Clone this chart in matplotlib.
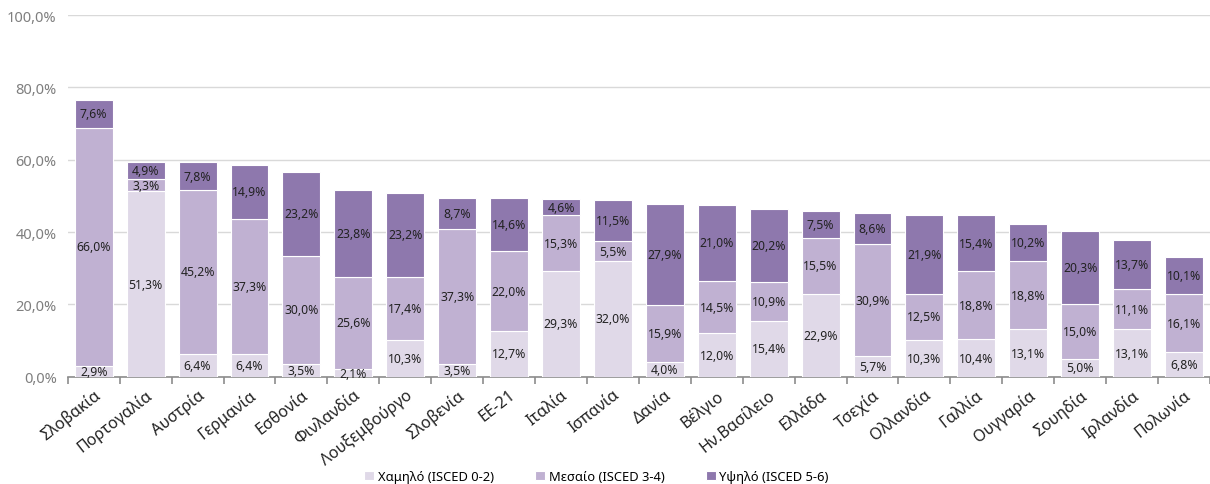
import numpy as np
import matplotlib.pyplot as plt
from matplotlib.ticker import FuncFormatter

plt.rcParams['font.family'] = ['Noto Sans', 'DejaVu Sans']

countries = ['Σλοβακία', 'Πορτογαλία', 'Αυστρία', 'Γερμανία', 'Εσθονία', 'Φινλανδία',
             'Λουξεμβούργο', 'Σλοβενία', 'ΕΕ-21', 'Ιταλία', 'Ισπανία', 'Δανία',
             'Βέλγιο', 'Ην.Βασίλειο', 'Ελλάδα', 'Τσεχία', 'Ολλανδία', 'Γαλλία',
             'Ουγγαρία', 'Σουηδία', 'Ιρλανδία', 'Πολωνία']
low = [2.9, 51.3, 6.4, 6.4, 3.5, 2.1, 10.3, 3.5, 12.7, 29.3, 32.0, 4.0,
       12.0, 15.4, 22.9, 5.7, 10.3, 10.4, 13.1, 5.0, 13.1, 6.8]
mid = [66.0, 3.3, 45.2, 37.3, 30.0, 25.6, 17.4, 37.3, 22.0, 15.3, 5.5, 15.9,
       14.5, 10.9, 15.5, 30.9, 12.5, 18.8, 18.8, 15.0, 11.1, 16.1]
high = [7.6, 4.9, 7.8, 14.9, 23.2, 23.8, 23.2, 8.7, 14.6, 4.6, 11.5, 27.9,
        21.0, 20.2, 7.5, 8.6, 21.9, 15.4, 10.2, 20.3, 13.7, 10.1]
series_names = ['Χαμηλό (ISCED 0-2)', 'Μεσαίο (ISCED 3-4)', 'Υψηλό (ISCED 5-6)']
colors = ['#e0d9e8', '#c0b1d2', '#8e78ad']

fig = plt.figure(figsize=(12.1, 4.85), dpi=100)
ax = fig.add_axes([0.056, 0.221, 0.944, 0.746])

x = np.arange(len(countries))
bottom = np.zeros(len(countries))
for vals, name, col in zip([low, mid, high], series_names, colors):
    vals = np.array(vals)
    ax.bar(x, vals, 0.73, bottom=bottom, color=col, edgecolor='white',
           linewidth=0.8, label=name, zorder=3)
    for xi, b, v in zip(x, bottom, vals):
        ax.text(xi, b + v / 2, f'{v:.1f}%'.replace('.', ','), ha='center', va='center',
                fontsize=8.8, color='#222222', zorder=4)
    bottom += vals

ax.set_xlim(-0.5, len(countries) - 0.5)
ax.set_ylim(0, 100)
ax.set_yticks(np.arange(0, 101, 20))
ax.yaxis.set_major_formatter(FuncFormatter(lambda v, p: f'{v:.1f}%'.replace('.', ',')))
ax.tick_params(axis='y', length=0, labelsize=10.5, labelcolor='#7f7f7f', pad=8)
ax.grid(axis='y', color='#d9d9d9', linewidth=1, zorder=0)

ax.set_xticks(x)
ax.set_xticklabels(countries, rotation=38, ha='right', rotation_mode='anchor',
                   fontsize=11.5, color='#222222')
ax.tick_params(axis='x', length=0, pad=7)
ax.set_xticks(np.arange(-0.5, len(countries), 1), minor=True)
ax.tick_params(axis='x', which='minor', length=5, width=1.2, color='#8c8c8c', direction='out')

for s in ['top', 'right', 'left']:
    ax.spines[s].set_visible(False)
ax.spines['bottom'].set_color('#8c8c8c')
ax.spines['bottom'].set_linewidth(1.2)

fig.legend(loc='center', bbox_to_anchor=(0.493, 0.016), ncol=3, frameon=False,
           fontsize=9.3, handlelength=0.75, handleheight=0.75, handletextpad=0.3,
           columnspacing=3.2, borderpad=0)

fig.savefig('out.png', dpi=100)
